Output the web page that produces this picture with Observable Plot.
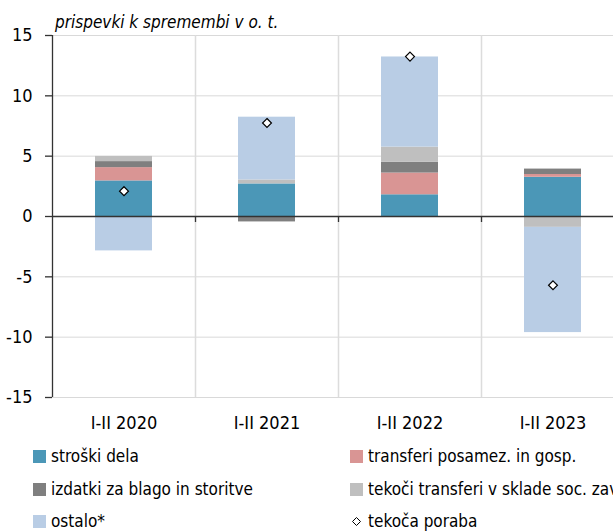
<!DOCTYPE html>
<html>
<head>
<meta charset="utf-8">
<script src="https://cdn.jsdelivr.net/npm/d3@7"></script>
<script src="https://cdn.jsdelivr.net/npm/@observablehq/plot@0.6"></script>
<style>
  html, body { margin: 0; padding: 0; background: #fff; overflow: hidden; width: 613px; height: 531px; }
  body { position: relative; font-family: "Liberation Sans Narrow", "DejaVu Sans Condensed", "Roboto Condensed", sans-serif; font-stretch: condensed; color: #000; }
  #subtitle { position: absolute; left: 55px; top: 12px; font-size: 17px; font-style: italic; white-space: nowrap; }
  #chart { position: absolute; left: 0; top: 0; }
  #legend { position: absolute; left: 0; top: 440px; width: 613px; }
  .item { position: absolute; height: 20px; line-height: 20px; font-size: 17px; white-space: nowrap; display: flex; align-items: center; }
  .sw { width: 13px; height: 13px; margin-right: 5px; display: inline-block; }
</style>
</head>
<body>
<div id="subtitle">prispevki k spremembi v o. t.</div>
<div id="chart"></div>
<div id="legend"></div>
<script>
const categories = ["I-II 2020", "I-II 2021", "I-II 2022", "I-II 2023"];
const series = ["stroški dela", "transferi posamez. in gosp.", "izdatki za blago in storitve", "tekoči transferi v sklade soc. zavarovanja", "ostalo*"];
const colors = ["#4b97b7", "#d99594", "#7f7f7f", "#bfbfbf", "#b9cde5"];
const stroskiDela = [2.95, 2.7, 1.8, 3.25];
const transferiPosamez = [1.1, 0, 1.8, 0.23];
const izdatkiBlago = [0.5, -0.45, 0.9, 0.45];
const tekociTransferi = [0.43, 0.33, 1.25, -0.9];
const ostalo = [-2.85, 5.2, 7.47, -8.72];
const tekocaPoraba = [2.1, 7.75, 13.25, -5.7];
const yTicks = [-15, -10, -5, 0, 5, 10, 15];
const pointLabel = "tekoča poraba";

const seriesValues = [stroskiDela, transferiPosamez, izdatkiBlago, tekociTransferi, ostalo];
const data = categories.flatMap((c, i) => series.map((s, j) => ({category: c, series: s, value: seriesValues[j][i]})));
const points = categories.map((c, i) => ({category: c, value: tekocaPoraba[i]}));

const font = '"Liberation Sans Narrow", "DejaVu Sans Condensed", "Roboto Condensed", sans-serif';
const half = 71.5;

const chart = Plot.plot({
  width: 613,
  height: 440,
  marginTop: 35,
  marginBottom: 43,
  marginLeft: 52,
  marginRight: 0,
  style: {fontFamily: font, fontSize: "18px", overflow: "hidden", background: "transparent"},
  x: {domain: categories, range: [52, 624], paddingInner: 0.6, paddingOuter: 0.3, label: null},
  y: {domain: [-15, 15], label: null},
  color: {domain: series, range: colors},
  marks: [
    Plot.gridY(yTicks.filter(d => d !== 0), {stroke: "#d9d9d9", strokeOpacity: 1, strokeWidth: 1}),
    Plot.ruleX(categories, {x: d => d, dx: half, stroke: "#dcdcdc", strokeWidth: 1.5}),
    Plot.barY(data, {x: "category", y: "value", fill: "series"}),
    Plot.ruleY([0], {stroke: "#333", strokeWidth: 1.5}),
    Plot.ruleX(categories, {x: d => d, dx: half, y1: 0, y2: 0, insetBottom: -6, stroke: "#333", strokeWidth: 1.3}),
    Plot.ruleX([categories[0]], {x: d => d, dx: -half, stroke: "#333", strokeWidth: 1.3}),
    Plot.axisY({ticks: yTicks, tickFormat: d => String(d), tickSize: 7, tickPadding: 13, fontSize: 18, stroke: "#333", strokeWidth: 1.3, fontFamily: font}),
    Plot.axisX({tickSize: 0, tickPadding: 19, fontSize: 18, fontFamily: font}),
    Plot.dot(points, {x: "category", y: "value", symbol: "diamond2", r: 4, fill: "white", stroke: "black", strokeWidth: 1.2})
  ]
});
document.getElementById("chart").appendChild(chart);

const legend = document.getElementById("legend");
const legendItems = series.map((s, i) => ({label: s, color: colors[i]})).concat([{label: pointLabel, marker: true}]);
const colX = [33, 350];
const rowY = [6, 39, 71];
legendItems.forEach((it, k) => {
  const el = document.createElement("div");
  el.className = "item";
  el.style.left = colX[k % 2] + "px";
  el.style.top = rowY[Math.floor(k / 2)] + "px";
  if (it.marker) {
    el.innerHTML = '<svg width="13" height="13" style="margin-right:5px"><path d="M6.5,2.5L10.5,6.5L6.5,10.5L2.5,6.5Z" fill="white" stroke="black" stroke-width="1"/></svg>';
  } else {
    el.innerHTML = '<span class="sw" style="background:' + it.color + '"></span>';
  }
  const t = document.createElement("span");
  t.textContent = it.label;
  el.appendChild(t);
  legend.appendChild(el);
});
</script>
</body>
</html>
